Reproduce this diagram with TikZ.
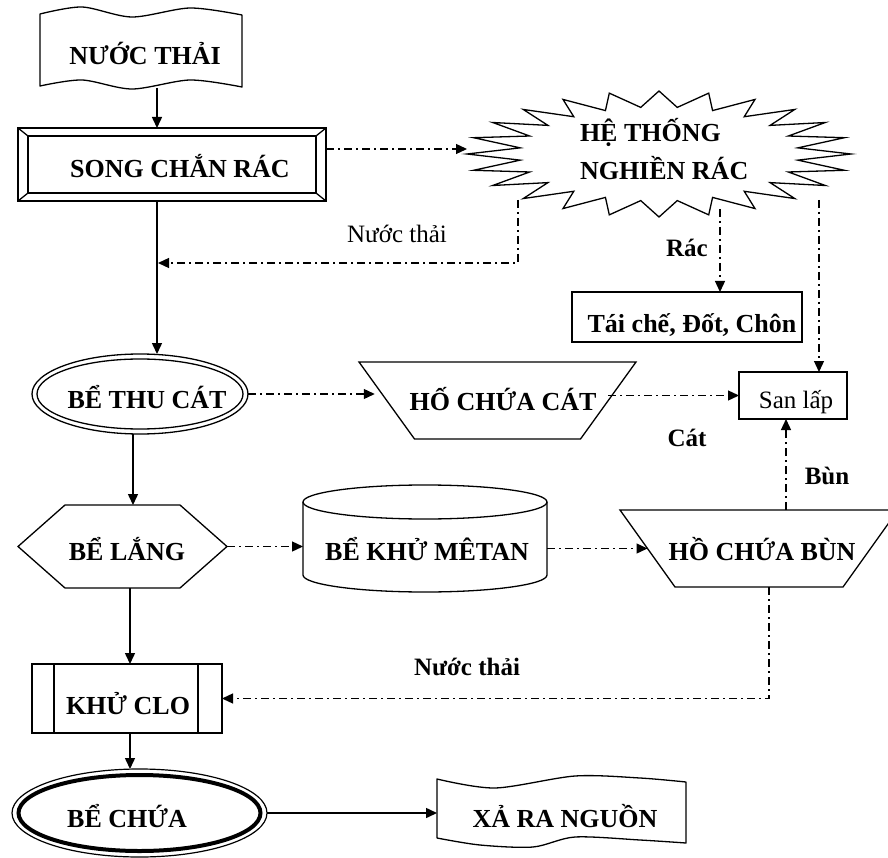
\documentclass[tikz,border=0pt]{standalone}
\usepackage{fontspec}
\setmainfont{Liberation Serif}
\usetikzlibrary{shapes.geometric,arrows.meta,calc}
\begin{document}
\begin{tikzpicture}[x=1pt,y=-1pt,
 every node/.style={inner sep=0pt, outer sep=0pt},
 lw/.style={line width=1.3pt},
 shp/.style={draw, line width=1.3pt},
 ghost/.style={draw=none},
 txt/.style={font=\fontsize{26}{30}\selectfont\bfseries, anchor=base},
 lab/.style={font=\fontsize{25}{30}\selectfont\bfseries, anchor=base},
 labr/.style={font=\fontsize{25}{30}\selectfont, anchor=base},
 arr/.style={line width=1.5pt, -{Triangle[length=11pt,width=10pt]}},
 da/.style={line width=1.3pt, dash pattern=on 8pt off 4pt on 2pt off 4pt, -{Triangle[length=11pt,width=10pt]}},
]
\useasboundingbox (0,0) rectangle (888,858);

% helper coordinates
\coordinate (mx) at (157,0);
\coordinate (lx) at (133,0);
\coordinate (lx2) at (130,0);
\coordinate (bn) at (786,0);
\coordinate (bd) at (769,0);
\coordinate (hbW) at (467,149);
\coordinate (hbL) at (518,200);
\coordinate (hbM) at (720,209);
\coordinate (hbR) at (819,200);
\coordinate (ret) at (158,263);
\coordinate (hbc) at (659,154);

% ---------- nodes ----------
\node[ghost, minimum width=202, minimum height=76] (nt) at (141,50) {};
\draw[lw, line join=round] plot[smooth] coordinates {(40,14) (82,7) (132,17) (190,8) (242,15)}
  -- (242,87) -- plot[smooth] coordinates {(242,87) (190,80) (132,89) (82,80) (40,86)} -- cycle;
\node[txt] (ntt) at (145,65) {NƯỚC THẢI};

\node[shp, minimum width=308, minimum height=73] (sc) at (172,164.5) {};
\draw[lw] ($(sc.north west)+(10,8)$) rectangle ($(sc.south east)+(-10,-8)$);
\draw[lw] (sc.north west) -- ++(10,8);
\draw[lw] (sc.north east) -- ++(-10,8);
\draw[lw] (sc.south west) -- ++(10,-8);
\draw[lw] (sc.south east) -- ++(-10,-8);
\node[txt] (sct) at (180,178) {SONG CHẮN RÁC};

\node[shp, minimum width=230, minimum height=50] (tc) at (687,317) {};
\node[txt] (tct) at (692,332) {Tái chế, Đốt, Chôn};

\node[shp, minimum width=108, minimum height=47] (sl) at (793,395.5) {};
\node[labr] (slt) at (796,408) {San lấp};

\node[shp, ellipse, minimum width=216, minimum height=80] (btc) at (140,394) {};
\draw[lw] (btc.center) ellipse [x radius=103, y radius=35];
\node[txt] (btct) at (147,408) {BỂ THU CÁT};

\node[ghost, minimum width=221.5, minimum height=77] (hc) at (497.5,400.5) {};
\draw[lw] ($(hc.north west)+(-27.75,0)$) -- ($(hc.north east)+(27.75,0)$)
  -- ($(hc.south east)+(-27.75,0)$) -- ($(hc.south west)+(27.75,0)$) -- cycle;
\node[txt] (hct) at (503,410) {HỐ CHỨA CÁT};

\node[ghost, minimum width=209, minimum height=83] (bl) at (122.5,546.5) {};
\draw[lw] (bl.west) -- ($(bl.north west)+(47,0)$) -- ($(bl.north east)+(-47,0)$) -- (bl.east)
  -- ($(bl.south east)+(-47,0)$) -- ($(bl.south west)+(47,0)$) -- cycle;
\node[txt] (blt) at (127,560) {BỂ LẮNG};

\node[ghost, minimum width=244, minimum height=107] (bk) at (425,538.5) {};
\draw[lw] ($(bk.north)+(0,17)$) ellipse [x radius=122, y radius=17];
\draw[lw] ($(bk.north west)+(0,17)$) -- ($(bk.south west)+(0,-17)$)
  arc[start angle=180, end angle=0, x radius=122, y radius=17] -- ($(bk.north east)+(0,17)$);
\node[txt] (bkt) at (427,560) {BỂ KHỬ MÊTAN};

\node[ghost, minimum width=223, minimum height=77] (hcb) at (759,548.5) {};
\draw[lw] ($(hcb.north west)+(-27.5,0)$) -- ($(hcb.north east)+(27.5,0)$)
  -- ($(hcb.south east)+(-27.5,0)$) -- ($(hcb.south west)+(27.5,0)$) -- cycle;
\node[txt] (hcbt) at (762,560) {HỒ CHỨA BÙN};

\node[shp, minimum width=190, minimum height=69] (kc) at (127,698.5) {};
\draw[lw] ($(kc.north west)+(22,0)$) -- ($(kc.south west)+(22,0)$);
\draw[lw] ($(kc.north east)+(-24,0)$) -- ($(kc.south east)+(-24,0)$);
\node[txt] (kct) at (128,714) {KHỬ CLO};

\node[draw, line width=1.2pt, ellipse, minimum width=255, minimum height=88] (bc) at (139.5,813) {};
\draw[line width=4pt] (bc.center) ellipse [x radius=121, y radius=38];
\node[txt] (bct) at (127,827) {BỂ CHỨA};

\node[ghost, minimum width=249, minimum height=60] (xr) at (561.5,812) {};
\draw[lw, line join=round] plot[smooth] coordinates {(437,779) (495,788) (575,776) (640,778) (686,782)}
  -- (686,843) -- plot[smooth] coordinates {(686,843) (640,840) (575,837) (533,847) (480,845) (437,838)} -- cycle;
\node[txt] (xrt) at (565,827) {XẢ RA NGUỒN};

% labels
\node[labr] (l1) at (397,243) {Nước thải};
\node[lab] (l2) at (687,257) {Rác};
\node[lab] (l3) at (687,446) {Cát};
\node[lab] (l4) at (827,484) {Bùn};
\node[lab] (l5) at (467,675) {Nước thải};

% ---------- connectors ----------
\draw[arr] (nt.south -| mx) -- (sc.north -| mx);
\draw[arr] (sc.south -| mx) -- (btc.north -| mx);
\draw[da] (sc.east |- hbW) -- (hbW);
\draw[da] (hbL) |- (ret);
\draw[da] (hbM) -- (tc.north -| hbM);
\draw[da] (hbR) -- (sl.north -| hbR);
\draw[da, shorten >=12pt] (btc.east) -- (btc.east -| hc.west);
\draw[da] (sl.west -| hc.east) -- (sl.west);
\draw[arr] (btc.south -| lx) -- (bl.north -| lx);
\draw[da] (bl.east) -- (bk.west |- bl.east);
\draw[da] (bk.east |- hcb.west) -- (hcb.west);
\draw[da] (hcb.north -| bn) -- (sl.south -| bn);
\draw[da] (hcb.south -| bd) |- (kc.east);
\draw[arr] (bl.south -| lx2) -- (kc.north -| lx2);
\draw[arr] (kc.south -| lx2) -- (bc.north -| lx2);
\draw[arr] (bc.east) -- (bc.east -| xr.west);

% starburst (drawn over connector starts)
\draw[lw, fill=white] ($(hbc)+(192,0)$)
  \foreach \a in {0,15,...,345}{
    -- ($(hbc)+({192*cos(\a)},{63*sin(\a)})$)
    -- ($(hbc)+({140*cos(\a+7.5)},{47*sin(\a+7.5)})$)
  } -- cycle;
\node[txt, anchor=base west] (hb1) at (580,142) {HỆ THỐNG};
\node[txt, anchor=base west] (hb2) at (580,180) {NGHIỀN RÁC};
\end{tikzpicture}
\end{document}
